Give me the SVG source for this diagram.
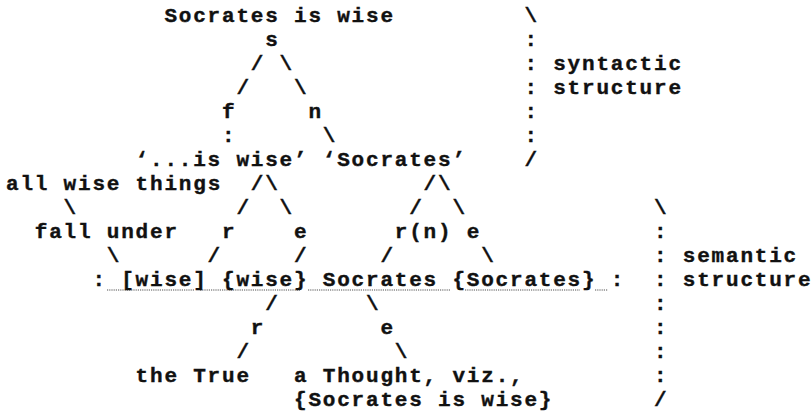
<svg xmlns="http://www.w3.org/2000/svg" width="811" height="412" viewBox="0 0 811 412">
<style>
text{font-family:"Liberation Mono","DejaVu Sans Mono",monospace;font-weight:bold;font-size:21px;letter-spacing:1.8px;fill:#111;stroke:#111;stroke-width:0.4;white-space:pre}
.ul{stroke:#8a8a8a;stroke-width:1.3;stroke-dasharray:1.2 1;fill:none}
</style>
<rect width="811" height="412" fill="#fff"/>
<g id="connectors">
<text x="250.8" y="70">/</text>
<text x="279.6" y="70">\</text>
<text x="236.4" y="94">/</text>
<text x="294" y="94">\</text>
<text x="222" y="142">:</text>
<text x="322.8" y="142">\</text>
<text x="250.8" y="190">/</text>
<text x="265.2" y="190">\</text>
<text x="423.6" y="190">/</text>
<text x="438" y="190">\</text>
<text x="63.6" y="214">\</text>
<text x="236.4" y="214">/</text>
<text x="279.6" y="214">\</text>
<text x="409.2" y="214">/</text>
<text x="452.4" y="214">\</text>
<text x="106.8" y="262">\</text>
<text x="207.6" y="262">/</text>
<text x="294" y="262">/</text>
<text x="380.4" y="262">/</text>
<text x="481.2" y="262">\</text>
<text x="92.4" y="286">:</text>
<text x="610.8" y="286">:</text>
<text x="265.2" y="310">/</text>
<text x="366" y="310">\</text>
<text x="236.4" y="358">/</text>
<text x="394.8" y="358">\</text>
<path class="ul" d="M107 290H195M200 290H300M308 290H450M465 290H580M595 290H608"/>
</g>
<g id="bracket-syntactic">
<text x="524.4" y="22">\</text>
<text x="524.4" y="46">:</text>
<text x="524.4" y="70">:</text>
<text x="524.4" y="94">:</text>
<text x="524.4" y="118">:</text>
<text x="524.4" y="142">:</text>
<text x="524.4" y="166">/</text>
</g>
<g id="bracket-semantic">
<text x="654" y="214">\</text>
<text x="654" y="238">:</text>
<text x="654" y="262">:</text>
<text x="654" y="286">:</text>
<text x="654" y="310">:</text>
<text x="654" y="334">:</text>
<text x="654" y="358">:</text>
<text x="654" y="382">:</text>
<text x="654" y="406">/</text>
</g>
<g id="node-sentence"><text x="164.4" y="22">Socrates is wise</text></g>
<g id="node-s"><text x="265.2" y="46">s</text></g>
<g id="node-f"><text x="222" y="118">f</text></g>
<g id="node-n"><text x="308.4" y="118">n</text></g>
<g id="node-is-wise"><text x="135.6" y="166">‘...is wise’</text></g>
<g id="node-socrates-name"><text x="322.8" y="166">‘Socrates’</text></g>
<g id="node-all-wise-things"><text x="6" y="190">all wise things</text></g>
<g id="node-fall-under"><text x="34.8" y="238">fall under</text></g>
<g id="node-r1"><text x="222" y="238">r</text></g>
<g id="node-e1"><text x="294" y="238">e</text></g>
<g id="node-rn"><text x="394.8" y="238">r(n)</text></g>
<g id="node-e2"><text x="466.8" y="238">e</text></g>
<g id="node-wise-concept"><text x="121.2" y="286">[wise]</text></g>
<g id="node-wise-ext"><text x="222" y="286">{wise}</text></g>
<g id="node-socrates"><text x="322.8" y="286">Socrates</text></g>
<g id="node-socrates-ext"><text x="452.4" y="286">{Socrates}</text></g>
<g id="node-r2"><text x="250.8" y="334">r</text></g>
<g id="node-e3"><text x="380.4" y="334">e</text></g>
<g id="node-the-true"><text x="135.6" y="382">the True</text></g>
<g id="node-thought"><text x="294" y="382">a Thought, viz.,</text><text x="294" y="406">{Socrates is wise}</text></g>
<g id="label-syntactic"><text x="553.2" y="70">syntactic</text><text x="553.2" y="94">structure</text></g>
<g id="label-semantic"><text x="682.8" y="262">semantic</text><text x="682.8" y="286">structure</text></g>
</svg>
